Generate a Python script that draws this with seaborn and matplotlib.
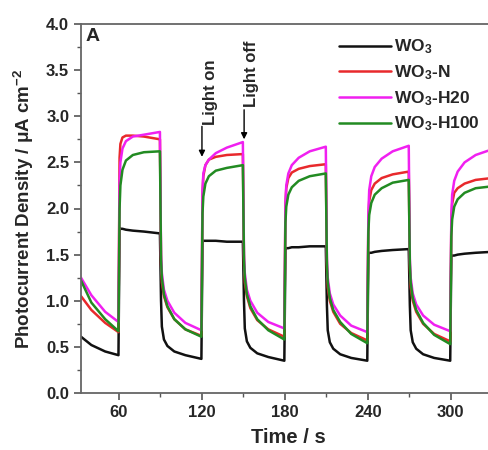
import numpy as np
import pandas as pd
import matplotlib
matplotlib.use('Agg')
import matplotlib.pyplot as plt
import seaborn as sns
from matplotlib.ticker import MultipleLocator

# light switches every 30 s, readings taken at these offsets after each switch
switch_times = [60, 90, 120, 150, 180, 210, 240, 270, 300]
offsets = [0.4, 1, 2.5, 5, 10, 18, 29.6]
start_times = [32.5, 40, 50, 59.6]
end_time = 333

wo3 = [0.61, 0.52, 0.45, 0.41,
       1.79, 1.78, 1.78, 1.77, 1.76, 1.75, 1.73,
       1.00, 0.72, 0.58, 0.51, 0.45, 0.41, 0.37,
       1.65, 1.65, 1.65, 1.65, 1.65, 1.64, 1.64,
       1.00, 0.70, 0.56, 0.49, 0.43, 0.39, 0.35,
       1.56, 1.57, 1.57, 1.58, 1.58, 1.59, 1.59,
       0.95, 0.68, 0.55, 0.48, 0.42, 0.38, 0.35,
       1.51, 1.52, 1.52, 1.53, 1.54, 1.55, 1.56,
       0.95, 0.68, 0.55, 0.48, 0.42, 0.38, 0.35,
       1.48, 1.49, 1.49, 1.50, 1.51, 1.52, 1.53,
       1.54]
wo3_n = [1.05, 0.90, 0.76, 0.66,
         2.55, 2.70, 2.77, 2.79, 2.79, 2.78, 2.75,
         1.40, 1.20, 1.05, 0.93, 0.80, 0.69, 0.62,
         2.15, 2.35, 2.47, 2.53, 2.56, 2.58, 2.59,
         1.40, 1.20, 1.05, 0.92, 0.79, 0.69, 0.61,
         2.05, 2.22, 2.33, 2.39, 2.43, 2.46, 2.48,
         1.35, 1.15, 1.00, 0.88, 0.75, 0.65, 0.57,
         1.90, 2.08, 2.20, 2.27, 2.33, 2.37, 2.40,
         1.35, 1.15, 1.00, 0.88, 0.75, 0.64, 0.56,
         1.85, 2.05, 2.17, 2.22, 2.27, 2.31, 2.33,
         2.34]
wo3_h20 = [1.25, 1.06, 0.88, 0.77,
           2.30, 2.50, 2.65, 2.73, 2.78, 2.80, 2.83,
           1.50, 1.30, 1.12, 1.00, 0.87, 0.76, 0.68,
           2.20, 2.38, 2.47, 2.53, 2.60, 2.66, 2.72,
           1.50, 1.30, 1.12, 1.00, 0.87, 0.77, 0.70,
           2.05, 2.25, 2.38, 2.47, 2.55, 2.62, 2.67,
           1.45, 1.25, 1.08, 0.96, 0.84, 0.73, 0.66,
           1.95, 2.20, 2.35, 2.45, 2.54, 2.62, 2.68,
           1.45, 1.25, 1.08, 0.96, 0.84, 0.74, 0.67,
           1.90, 2.15, 2.30, 2.40, 2.50, 2.58, 2.64,
           2.65]
wo3_h100 = [1.22, 0.98, 0.80, 0.67,
            2.00, 2.25, 2.42, 2.52, 2.58, 2.61, 2.62,
            1.45, 1.25, 1.07, 0.94, 0.80, 0.69, 0.61,
            1.95, 2.13, 2.27, 2.35, 2.41, 2.44, 2.47,
            1.45, 1.25, 1.07, 0.94, 0.80, 0.68, 0.58,
            1.85, 2.02, 2.15, 2.23, 2.30, 2.35, 2.38,
            1.40, 1.20, 1.03, 0.90, 0.77, 0.64, 0.54,
            1.75, 1.93, 2.06, 2.15, 2.22, 2.28, 2.31,
            1.40, 1.20, 1.03, 0.90, 0.76, 0.63, 0.53,
            1.70, 1.88, 2.02, 2.10, 2.17, 2.22, 2.24,
            2.25]

labels = [r'WO$_\mathbf{3}$', r'WO$_\mathbf{3}$-N', r'WO$_\mathbf{3}$-H20', r'WO$_\mathbf{3}$-H100']
colors = ['#111111', '#e8292c', '#f020f0', '#228b22']

times = list(start_times)
for s in switch_times:
    times += [s + o for o in offsets]
times.append(end_time)

rows = []
for lab, vals in zip(labels, [wo3, wo3_n, wo3_h20, wo3_h100]):
    for t, v in zip(times, vals):
        rows.append({'time': t, 'j': v, 'sample': lab})
df = pd.DataFrame(rows)

sns.set_style('ticks')
plt.rcParams['font.family'] = ['Liberation Sans', 'DejaVu Sans']
plt.rcParams['font.weight'] = 'bold'
plt.rcParams['mathtext.default'] = 'bf'
plt.rcParams['mathtext.fontset'] = 'custom'
plt.rcParams['mathtext.bf'] = 'Liberation Sans:bold'

fig = plt.figure(figsize=(4.89, 4.5), dpi=100)
ax = fig.add_axes([81/489, 57/450, 414/489, 369/450])

sns.lineplot(data=df, x='time', y='j', hue='sample', hue_order=labels,
             palette=colors, estimator=None, sort=False, lw=1.8, ax=ax)

ax.set_xlim(32.5, 332)
ax.set_ylim(0, 4.0)
ax.xaxis.set_major_locator(MultipleLocator(60))
ax.xaxis.set_minor_locator(MultipleLocator(30))
ax.yaxis.set_major_locator(MultipleLocator(0.5))
ax.yaxis.set_minor_locator(MultipleLocator(0.25))
ax.yaxis.set_major_formatter(matplotlib.ticker.FormatStrFormatter('%.1f'))
ax.tick_params(which='major', length=5, width=1.2, color='#555555', labelsize=12)
ax.tick_params(which='minor', length=3, width=1.0, color='#555555')
for sp in ax.spines.values():
    sp.set_color('#666666')
    sp.set_linewidth(1.3)

ax.set_xlabel('Time / s', fontsize=14.5, fontweight='bold', labelpad=6)
ax.set_ylabel(r'Photocurrent Density / μA cm$^{\mathbf{-2}}$', fontsize=13.5, fontweight='bold', labelpad=7)

ax.legend(frameon=False, loc='upper left', bbox_to_anchor=(0.585, 1.005),
          handlelength=3.0, handletextpad=0.2, labelspacing=0.4, fontsize=12.5)

ax.text(0.012, 0.99, 'A', transform=ax.transAxes, fontsize=14, fontweight='bold', va='top')

ax.annotate('', xy=(120, 2.53), xytext=(120, 2.92),
            arrowprops=dict(arrowstyle='-|>', color='black', lw=1.0, mutation_scale=9))
ax.text(126.5, 2.9, 'Light on', rotation=90, fontsize=12, fontweight='bold', ha='center', va='bottom')
ax.annotate('', xy=(150.5, 2.72), xytext=(150.5, 3.1),
            arrowprops=dict(arrowstyle='-|>', color='black', lw=1.0, mutation_scale=9))
ax.text(155.5, 3.1, 'Light off', rotation=90, fontsize=12, fontweight='bold', ha='center', va='bottom')

fig.savefig('out.png', dpi=100)
